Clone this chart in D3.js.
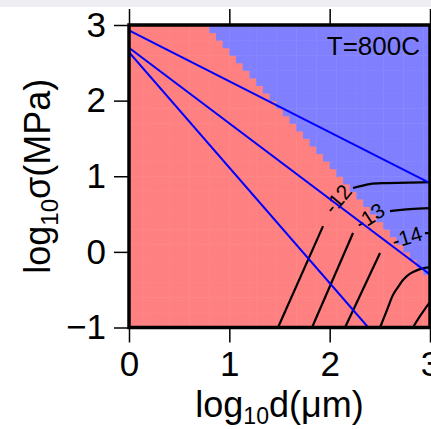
<!DOCTYPE html>
<html>
<head>
<meta charset="utf-8">
<script src="https://cdn.jsdelivr.net/npm/d3@7"></script>
<style>
  body { margin: 0; background: #fff; }
  svg { display: block; font-family: "Liberation Sans", Arial, Helvetica, sans-serif; }
</style>
</head>
<body>
<svg id="chart" width="431" height="429"></svg>
<script>
// Axis ticks (log10 d in um, log10 sigma in MPa)
const xTicks = [0, 1, 2, 3];
const yTicks = [-1, 0, 1, 2, 3];

// Mechanism raster resolution (columns across d, rows across sigma)
const gridCols = 45;
const gridRows = 40;

// Boundary between the two mechanism fields, [log d, log sigma]
const fieldBoundary = [[0.753, 3.0], [3.0, -0.37]];

// Blue reference lines, [log d, log sigma]
const blueLines = [
  [[0, 2.93], [3, 0.91]],
  [[0, 2.70], [3, -0.30]],
  [[0, 2.64], [2.385, -1.0]]
];

// Strain-rate contour pieces (broken where the labels sit)
const contour12 = [
  [[1.485, -1.0], [1.934, 0.34]],
  [[2.233, 0.844], [2.40, 0.897], [2.571, 0.910], [3.0, 0.923]]
];
const contour13 = [
  [[1.824, -1.0], [2.233, 0.249]],
  [[2.601, 0.540], [2.80, 0.566], [3.0, 0.579]]
];
const contour14 = [
  [[2.153, -1.0], [2.502, -0.016]],
  [[2.95, 0.249], [3.0, 0.249]]
];
const contour15 = [
  [[2.502, -1.0], [2.571, -0.77], [2.631, -0.571], [2.681, -0.466], [2.731, -0.373],
   [2.781, -0.307], [2.831, -0.267], [2.90, -0.228], [3.0, -0.201]]
];
const contour16 = [
  [[2.83, -1.0], [2.90, -0.85], [3.0, -0.66]]
];

// Contour labels
const contourLabels = ["-12", "-13", "-14"];
const labelAt = [[2.08, 0.70], [2.40, 0.47], [2.77, 0.195]];
const labelAngle = [-50, -33, -17];

const svg = d3.select("#chart");

// plot frame in pixels
let plotLeft = 129, plotRight = 430, plotTop = 25, plotBottom = 327.5;

let x = d3.scaleLinear().domain([0, 3]).range([plotLeft, plotRight]);
let y = d3.scaleLinear().domain([-1, 3]).range([plotBottom, plotTop]);

// faint strip left over from a cropped title
svg.append("rect")
  .attr("x", 0).attr("y", 0).attr("width", 431).attr("height", 7)
  .attr("fill", "#eeeef3");

svg.append("clipPath").attr("id", "plot-clip")
  .append("rect")
    .attr("x", plotLeft).attr("y", plotTop)
    .attr("width", plotRight - plotLeft).attr("height", plotBottom - plotTop);

const plot = svg.append("g").attr("clip-path", "url(#plot-clip)");

/*
** MECHANISM FIELDS
*/
// sigma of the boundary at a given d
function boundaryAt(d) {
  let a = fieldBoundary[0], b = fieldBoundary[1];
  return a[1] + (b[1] - a[1]) * (d - a[0]) / (b[0] - a[0]);
}

let dx = 3 / gridCols, dy = 4 / gridRows;
let cells = [];
d3.range(gridCols).forEach(i => {
  d3.range(gridRows).forEach(j => {
    let cx = (i + 0.5) * dx;
    let cy = -1 + (j + 0.5) * dy;
    cells.push({ i: i, j: j, upper: cy > boundaryAt(cx) });
  });
});

plot.selectAll(".cell")
  .data(cells)
  .enter()
  .append("rect")
    .classed("cell", true)
    .attr("x", d => x(d.i * dx))
    .attr("y", d => y(-1 + (d.j + 1) * dy))
    .attr("width", d => x((d.i + 1) * dx) - x(d.i * dx) + 0.5)
    .attr("height", d => y(-1 + d.j * dy) - y(-1 + (d.j + 1) * dy) + 0.5)
    .attr("fill", d => d.upper ? "#8080ff" : "#ff8080");

/*
** CONTOURS
*/
let line = d3.line().x(d => x(d[0])).y(d => y(d[1])).curve(d3.curveCatmullRom);

let pieces = [].concat(contour12, contour13, contour14, contour15, contour16);
plot.selectAll(".contour")
  .data(pieces)
  .enter()
  .append("path")
    .classed("contour", true)
    .attr("d", line)
    .attr("fill", "none")
    .attr("stroke", "#000")
    .attr("stroke-width", 2.2);

plot.selectAll(".clabel")
  .data(contourLabels)
  .enter()
  .append("text")
    .classed("clabel", true)
    .attr("transform", (d, i) => `translate(${x(labelAt[i][0])},${y(labelAt[i][1])}) rotate(${labelAngle[i]})`)
    .attr("text-anchor", "middle")
    .attr("dy", "0.35em")
    .style("font-size", "21px")
    .text(d => d);

plot.selectAll(".blue-line")
  .data(blueLines)
  .enter()
  .append("path")
    .classed("blue-line", true)
    .attr("d", d3.line().x(d => x(d[0])).y(d => y(d[1])))
    .attr("fill", "none")
    .attr("stroke", "#0000ff")
    .attr("stroke-width", 2);

plot.append("text")
  .attr("x", 420).attr("y", 55)
  .attr("text-anchor", "end")
  .style("font-size", "26px")
  .text("T=800C");

/*
** AXES
*/
let fmt = d => d < 0 ? "\u2212" + Math.abs(d) : String(d);

let xAxis = svg.append("g")
  .attr("transform", `translate(0,${plotBottom})`)
  .call(d3.axisBottom(x).tickValues(xTicks).tickFormat(fmt).tickSize(15).tickSizeOuter(0).tickPadding(9));
let xTop = svg.append("g")
  .attr("transform", `translate(0,${plotTop})`)
  .call(d3.axisTop(x).tickValues(xTicks).tickFormat("").tickSize(16).tickSizeOuter(0));
let yAxis = svg.append("g")
  .attr("transform", `translate(${plotLeft},0)`)
  .call(d3.axisLeft(y).tickValues(yTicks).tickFormat(fmt).tickSize(15).tickSizeOuter(0).tickPadding(8));

[xAxis, xTop, yAxis].forEach(g => {
  g.select(".domain").remove();
  g.selectAll(".tick line").attr("stroke", "#000").attr("stroke-width", 1.5);
  g.selectAll(".tick text").attr("fill", "#000").style("font-size", "35px")
    .style("font-family", "'Liberation Sans', Arial, sans-serif");
});

// heavy frame
svg.append("rect")
  .attr("x", plotLeft).attr("y", plotTop)
  .attr("width", plotRight - plotLeft).attr("height", plotBottom - plotTop)
  .attr("fill", "none")
  .attr("stroke", "#000")
  .attr("stroke-width", 3.5);

// axis titles
let xTitle = svg.append("text")
  .attr("x", (plotLeft + plotRight) / 2).attr("y", 417)
  .attr("text-anchor", "middle")
  .style("font-size", "36px");
xTitle.append("tspan").text("log");
xTitle.append("tspan").attr("dy", 7).style("font-size", "23px").text("10");
xTitle.append("tspan").attr("dy", -7).text("d(\u03bcm)");

let yTitle = svg.append("text")
  .attr("transform", `translate(50,${(plotTop + plotBottom) / 2}) rotate(-90)`)
  .attr("text-anchor", "middle")
  .style("font-size", "36px");
yTitle.append("tspan").text("log");
yTitle.append("tspan").attr("dy", 8).style("font-size", "24px").text("10");
yTitle.append("tspan").attr("dy", -8).text("\u03c3(MPa)");
</script>
</body>
</html>
